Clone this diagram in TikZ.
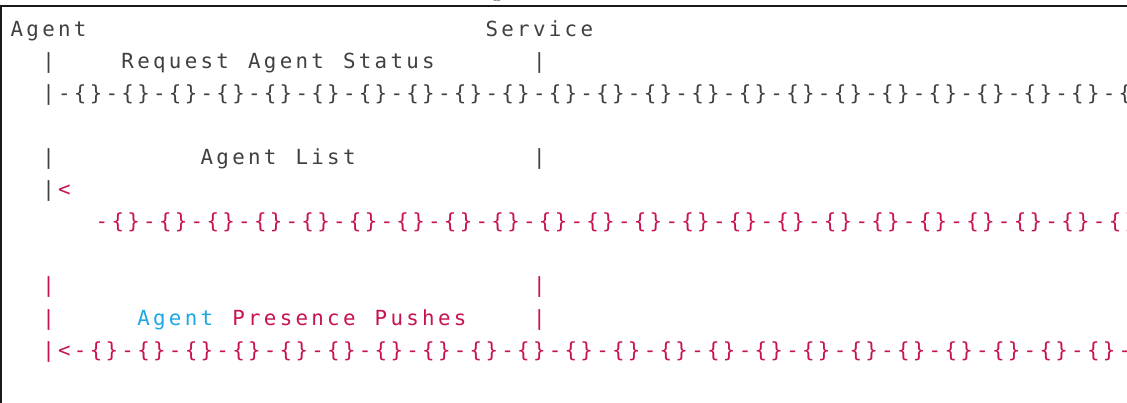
\documentclass[tikz,border=0pt]{standalone}
\usepackage{fontspec}
\newfontfamily\codefont{DejaVu Sans Mono}
\definecolor{ink}{HTML}{404040}
\definecolor{rose}{HTML}{C8134D}
\definecolor{sky}{HTML}{1BA8E3}
\definecolor{rule}{HTML}{1A1A1A}
\newlength\cw \setlength\cw{15.83pt}
\ExplSyntaxOn
\NewDocumentCommand{\mono}{m}{\str_map_inline:nn {#1} {\makebox[\cw][c]{##1}}}
\ExplSyntaxOff
\tikzset{
  code/.style={anchor=base west, inner sep=0pt, outer sep=0pt,
    font=\codefont\fontsize{20.8}{24}\selectfont, text=ink},
  red/.style={code, text=rose},
  blue/.style={code, text=sky},
  frame/.style={draw=rule, line width=1.3pt}
}
\begin{document}
\begin{tikzpicture}[x=1pt,y=-1pt]
\useasboundingbox (0,0) rectangle (1127,403);
\clip (0,0) rectangle (1127,403);
\fill[white] (0,0) rectangle (1127,403);
% frame
\coordinate (tl) at (0,6);
\coordinate (tr) at (1127,6);
\coordinate (lt) at (1,6);
\coordinate (lb) at (1,403);
\draw[frame] (tl) -- (tr);
\draw[frame] (lt) -- (lb);
\node[anchor=base, inner sep=0pt, font=\fontsize{20}{24}\selectfont] (cut) at (497,-2) {g};
% row 0
\node[code] (agent) at ({9+0*15.83},37) {\mono{Agent}};
\node[code] (service) at ({9+30*15.83},37) {\mono{Service}};
% row 1
\node[code] (r1a) at ({9+2*15.83},69) {\mono{|}};
\node[code] (r1t) at ({9+7*15.83},69) {\mono{Request Agent Status}};
\node[code] (r1b) at ({9+33*15.83},69) {\mono{|}};
% row 2
\node[code] (r2) at ({9+2*15.83},101) {\mono{|-{}-{}-{}-{}-{}-{}-{}-{}-{}-{}-{}-{}-{}-{}-{}-{}-{}-{}-{}-{}-{}-{}-{}}};
% row 4
\node[code] (r4a) at ({9+2*15.83},165) {\mono{|}};
\node[code] (r4t) at ({9+12*15.83},165) {\mono{Agent List}};
\node[code] (r4b) at ({9+33*15.83},165) {\mono{|}};
% row 5
\node[code] (r5a) at ({9+2*15.83},197) {\mono{|}};
\node[red] (r5b) at ({9+3*15.83},197) {\mono{<}};
% row 6
\node[red] (r6) at ({7+5.5*15.83},229) {\mono{-{}-{}-{}-{}-{}-{}-{}-{}-{}-{}-{}-{}-{}-{}-{}-{}-{}-{}-{}-{}-{}-{}-{}}};
% row 8
\node[red] (r8a) at ({9+2*15.83},293) {\mono{|}};
\node[red] (r8b) at ({9+33*15.83},293) {\mono{|}};
% row 9
\node[red] (r9a) at ({9+2*15.83},325) {\mono{|}};
\node[blue] (r9t) at ({9+8*15.83},325) {\mono{Agent}};
\node[red] (r9u) at ({9+14*15.83},325) {\mono{Presence Pushes}};
\node[red] (r9b) at ({9+33*15.83},325) {\mono{|}};
% row 10
\node[red] (r10) at ({9+2*15.83},357) {\mono{|<-{}-{}-{}-{}-{}-{}-{}-{}-{}-{}-{}-{}-{}-{}-{}-{}-{}-{}-{}-{}-{}-{}-{}}};
\end{tikzpicture}
\end{document}
